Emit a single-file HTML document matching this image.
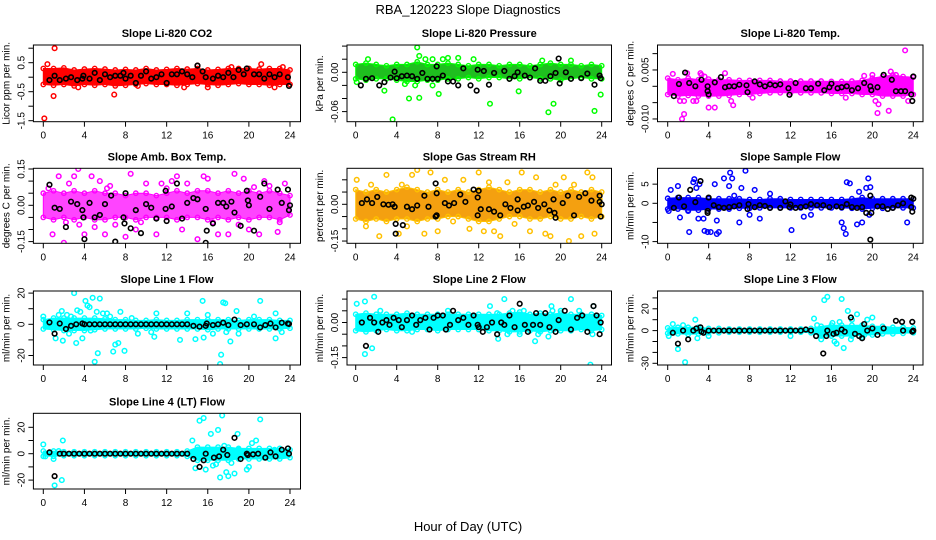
<!DOCTYPE html>
<html><head><meta charset="utf-8"><style>
body{margin:0;background:#fff;}
svg{display:block;font-family:"Liberation Sans",sans-serif;}
</style></head><body>
<svg id="chart" width="936" height="540" viewBox="0 0 936 540">
<text x="468" y="14" text-anchor="middle" font-size="13">RBA_120223  Slope Diagnostics</text>
<text x="468" y="531" text-anchor="middle" font-size="13">Hour of Day (UTC)</text>
</svg>
<script>
const hours=[0,1,2,3,4,5,6,7,8,9,10,11,12,13,14,15,16,17,18,19,20,21,22,23,24];
const xTicks=[0,4,8,12,16,20,24];

const co2Hi=[0.3,0.3,0.32,0.25,0.28,0.3,0.28,0.25,0.27,0.25,0.3,0.25,0.27,0.3,0.28,0.3,0.25,0.27,0.3,0.3,0.3,0.28,0.3,0.3,0.25];
const co2Lo=[-0.25,-0.28,-0.25,-0.3,-0.25,-0.28,-0.25,-0.3,-0.28,-0.25,-0.22,-0.25,-0.25,-0.28,-0.25,-0.22,-0.25,-0.28,-0.25,-0.22,-0.25,-0.25,-0.28,-0.25,-0.25];
const co2Out=[[0.1,-1.42],[1.0,-0.65],[1.1,1.0],[6.9,-0.6],[21.2,0.45],[15,0.4],[0.4,0.45],[23.3,0.35],[3.4,-0.35],[16,-0.35],[22.5,-0.35],[18.3,0.35],[9.2,-0.3],[13.7,-0.35]];
const co2Blk=[[0.6,-0.1],[1.1,0.05],[1.6,-0.1],[2.2,-0.05],[2.7,0],[3.3,-0.1],[3.8,-0.05],[3.9,0.05],[4.5,-0.05],[5.0,0.15],[5.5,-0.1],[6.0,0.1],[6.5,0],[7.0,0.05],[7.5,0.05],[7.8,0.15],[8.0,-0.05],[8.5,0.05],[9.0,-0.2],[9.5,0.05],[10.0,0.2],[10.5,-0.05],[11.0,0],[11.5,0.1],[12.0,-0.2],[12.5,0.1],[13.0,0.1],[13.5,0.2],[14.0,0.1],[14.5,0],[15.0,0.4],[15.5,0.2],[15.8,0],[16.5,-0.05],[17.0,0.05],[17.5,0],[18.0,0.15],[18.5,0],[19.0,0.25],[19.5,0.1],[19.8,0.3],[20.5,0.1],[21.0,0.1],[21.5,-0.05],[22.0,0.1],[22.5,0],[23.0,0.1],[23.8,0],[23.9,-0.3]];

const presHi=[0.012,0.014,0.012,0.01,0.012,0.012,0.016,0.012,0.012,0.014,0.012,0.01,0.012,0.012,0.01,0.012,0.012,0.01,0.012,0.014,0.012,0.012,0.01,0.012,0.01];
const presLo=[-0.01,-0.012,-0.01,-0.01,-0.012,-0.014,-0.014,-0.012,-0.012,-0.01,-0.01,-0.008,-0.01,-0.008,-0.008,-0.01,-0.01,-0.008,-0.01,-0.01,-0.012,-0.01,-0.008,-0.01,-0.01];
const presOut=[[6,0.038],[6.2,0.025],[6.8,0.02],[7.5,0.02],[8.5,0.02],[9,0.022],[10,0.022],[1.2,0.02],[0.1,-0.015],[2.8,-0.028],[3.6,-0.072],[5.2,-0.04],[6.2,-0.039],[8.1,-0.033],[13.1,-0.048],[15.9,-0.029],[18.8,-0.061],[19.3,-0.048],[23.3,-0.059],[23.9,-0.034],[7.5,-0.02],[5.8,-0.02],[18.2,0.018],[21,0.018],[4.8,-0.018],[11.5,0.02]];
const presBlk=[[0.5,-0.02],[1.0,-0.01],[1.6,-0.009],[2.3,-0.02],[2.8,-0.015],[3.4,-0.008],[3.8,0.001],[4.0,-0.009],[4.5,-0.006],[5.0,-0.005],[5.5,-0.006],[6.0,-0.01],[6.5,-0.001],[7.0,-0.01],[7.5,-0.01],[7.9,0.009],[8.0,-0.01],[8.5,-0.005],[9.0,-0.014],[9.5,-0.014],[10.0,-0.02],[10.5,0.006],[11.2,-0.02],[11.8,-0.028],[11.9,0.004],[12.5,0.002],[13.0,-0.019],[13.5,-0.001],[14.5,0.002],[15.0,-0.01],[15.5,-0.006],[15.8,0.0],[16.5,-0.005],[17.0,-0.008],[17.5,0.006],[18.0,-0.013],[18.5,-0.013],[19.0,-0.006],[19.5,-0.001],[19.8,0.021],[19.9,-0.017],[20.5,0],[21.0,-0.01],[22.0,-0.009],[22.6,-0.002],[23.3,-0.019],[23.8,-0.005],[23.9,-0.009]];

const ltHi=[0.0025,0.002,0.0025,0.002,0.0022,0.002,0.002,0.0018,0.0018,0.0018,0.0018,0.0016,0.0016,0.0016,0.0016,0.0016,0.0015,0.0015,0.0016,0.0018,0.0025,0.003,0.0035,0.003,0.0028];
const ltLo=[-0.0025,-0.003,-0.0028,-0.003,-0.003,-0.003,-0.0028,-0.0025,-0.0025,-0.0022,-0.002,-0.002,-0.002,-0.002,-0.002,-0.002,-0.0022,-0.0022,-0.0022,-0.0025,-0.0025,-0.003,-0.003,-0.003,-0.0025];
const ltOut=[[0.5,0.0038],[1.2,-0.0045],[1.6,-0.0045],[1.4,-0.0100],[1.6,-0.0085],[1.9,0.004],[2.5,-0.0045],[2.8,-0.0045],[3.2,0.004],[3.6,0.003],[4.0,-0.0065],[4.6,-0.0065],[5.6,0.004],[6.2,-0.0045],[6.4,-0.0058],[3.3,0.0035],[20.3,-0.0045],[20.6,-0.0055],[20.5,-0.0082],[21.8,0.0045],[21.6,-0.0075],[23.2,0.011],[22.3,0.0035],[23.5,-0.0045],[19.2,0.0032],[20.0,0.0035],[8.3,-0.0035],[17.4,-0.0035]];
const ltBlk=[[0.6,-0.003],[1.1,0.0007],[1.7,0.0042],[2.1,0.001],[2.7,0],[3.3,0.002],[3.9,0],[3.9,-0.0015],[4.0,-0.0025],[4.6,0.0012],[5.2,0.0028],[5.6,-0.0003],[6.0,0],[6.5,0],[7.0,0.0005],[7.7,0.0003],[7.8,-0.0018],[8.5,0.0015],[9.0,0.0006],[9.5,0],[10.0,0.0006],[10.5,0.0003],[11.0,0.0006],[11.8,-0.0006],[11.9,-0.0026],[12.5,0.001],[13.5,-0.0006],[14.0,-0.0006],[14.7,0.0008],[15.3,-0.0012],[15.8,-0.0003],[16.0,0.0008],[16.6,-0.0006],[17.0,-0.0003],[17.5,0],[18.0,-0.0012],[18.6,-0.0006],[19.2,0.001],[19.8,0],[19.9,-0.0012],[20.5,-0.0003],[21.1,0.0035],[21.9,0.002],[22.3,-0.0015],[22.8,-0.0015],[23.2,-0.0015],[23.8,-0.0025],[23.9,-0.0045],[24.0,0.003]];

const abHi=[0.05,0.06,0.05,0.06,0.05,0.06,0.05,0.05,0.04,0.05,0.05,0.04,0.05,0.06,0.05,0.06,0.06,0.05,0.06,0.05,0.06,0.05,0.06,0.05,0.04];
const abLo=[-0.05,-0.06,-0.05,-0.06,-0.05,-0.06,-0.06,-0.05,-0.05,-0.06,-0.05,-0.05,-0.05,-0.06,-0.05,-0.05,-0.06,-0.05,-0.06,-0.05,-0.06,-0.05,-0.05,-0.06,-0.04];
const abOut=[[0.9,-0.12],[2.0,-0.155],[2.5,0.09],[3.0,0.12],[3.5,-0.08],[4.0,-0.12],[4.7,0.12],[5.0,-0.09],[5.5,0.1],[6.0,-0.12],[6.5,0.08],[7.0,-0.08],[8.0,-0.13],[8.5,0.13],[9.0,-0.1],[10.0,0.09],[11.0,-0.12],[11.5,0.09],[12.5,0.1],[13.5,-0.1],[14.0,0.09],[15.0,-0.14],[15.6,0.12],[16.0,0.11],[17.0,-0.12],[18.0,-0.12],[18.6,0.13],[19.5,0.11],[20.0,-0.1],[21.0,-0.12],[21.5,0.1],[22.0,0.08],[22.8,-0.11],[23.5,0.09],[3.4,0.15],[1.5,0.12],[13.0,0.12],[19.0,-0.08],[0.5,0.07],[2.2,-0.07],[6.2,0.07],[9.5,-0.07],[12.0,0.07],[16.5,-0.07],[20.5,0.075],[23.0,-0.07]];
const abBlk=[[0.6,0.085],[1.1,-0.01],[1.6,-0.015],[2.2,-0.09],[2.7,0.015],[3.3,0.005],[3.8,-0.02],[3.9,-0.05],[4.0,-0.14],[4.5,0.01],[5.0,-0.05],[5.5,-0.04],[6.0,0.005],[6.6,0.04],[7.0,-0.15],[7.8,-0.05],[7.9,-0.075],[8.0,0.05],[8.5,-0.095],[9.0,-0.02],[9.5,-0.115],[10.0,0.005],[10.5,-0.01],[11.0,-0.055],[11.9,0.06],[11.9,-0.015],[12.0,-0.065],[12.5,-0.005],[13.0,0.09],[13.5,-0.055],[14.0,0.01],[14.6,0.03],[15.0,0.025],[15.8,-0.015],[15.9,-0.105],[15.8,-0.155],[16.5,-0.075],[17.0,0.01],[17.5,0.01],[17.8,-0.005],[18.3,0.015],[18.6,-0.03],[19.2,-0.085],[19.8,0.06],[19.9,0.02],[20.0,0],[20.5,-0.105],[21.1,0.035],[21.5,0.09],[22.0,-0.015],[22.8,0.065],[23.2,0.01],[23.8,0.065],[23.9,-0.02],[24.0,0.0]];

const rhHi=[0.06,0.05,0.06,0.05,0.06,0.07,0.06,0.05,0.06,0.05,0.06,0.05,0.06,0.07,0.06,0.05,0.06,0.06,0.05,0.06,0.05,0.06,0.05,0.06,0.05];
const rhLo=[-0.06,-0.07,-0.06,-0.07,-0.06,-0.06,-0.07,-0.06,-0.06,-0.05,-0.05,-0.06,-0.07,-0.07,-0.06,-0.05,-0.05,-0.06,-0.06,-0.05,-0.06,-0.06,-0.05,-0.06,-0.05];
const rhOut=[[0.1,0.1],[1.0,-0.09],[1.5,0.08],[2.3,-0.13],[3.0,0.12],[4.2,-0.12],[4.5,0.08],[5.0,-0.09],[5.5,0.12],[6.0,0.14],[6.7,-0.12],[7.3,0.13],[8.0,-0.11],[8.7,0.1],[9.5,-0.07],[10.5,0.1],[11.1,-0.1],[12.0,0.13],[12.5,-0.11],[13.0,0.09],[13.5,-0.11],[14.1,-0.13],[14.8,0.09],[15.5,-0.08],[16.2,0.13],[17.0,-0.11],[17.6,0.11],[18.5,-0.12],[19.0,-0.13],[19.5,0.08],[20.3,0.11],[20.8,-0.15],[21.3,0.08],[22.0,-0.13],[22.6,0.13],[23.1,0.11],[23.3,-0.12],[23.8,0.02]];
const rhBlk=[[0.6,0.005],[1.1,0.02],[1.6,0.005],[2.1,0.03],[2.7,0],[3.2,-0.002],[3.6,0],[3.8,-0.01],[3.9,-0.08],[3.9,-0.12],[4.6,-0.085],[5.0,-0.01],[5.5,-0.02],[6.0,-0.005],[6.7,0.035],[7.1,-0.01],[7.8,-0.05],[7.9,-0.045],[7.9,0.045],[7.8,0.085],[8.7,0.005],[9.1,-0.005],[9.6,0.005],[10.2,0.04],[10.7,0.01],[11.5,0.06],[12.0,0.055],[11.9,0.028],[11.9,-0.045],[12.2,-0.02],[13.0,-0.02],[13.5,-0.03],[14.1,-0.045],[14.6,0],[15.1,-0.015],[15.8,0.02],[15.8,-0.025],[16.4,-0.01],[16.8,-0.005],[17.4,0.01],[17.8,-0.015],[18.4,0],[18.9,-0.025],[19.3,0.02],[19.4,-0.035],[19.5,-0.055],[20.2,0.005],[20.7,0.035],[21.3,-0.045],[21.8,0.03],[22.4,0.045],[23.0,0.015],[23.8,0.035],[23.8,0.01],[23.9,-0.05],[24.0,0.0]];

const sfHi=[1.3,1.5,1.5,1.5,1.2,1.2,1.2,1.2,1.0,1.0,1.2,1.2,1.0,1.0,1.0,1.0,1.0,1.0,1.2,1.5,1.2,1.2,1.2,1.2,1.2];
const sfLo=[-1.5,-1.5,-1.8,-1.8,-1.5,-1.5,-1.5,-1.3,-1.3,-1.2,-1.2,-1.2,-1.2,-1.2,-1.2,-1.2,-1.2,-1.2,-1.3,-1.5,-1.3,-1.3,-1.2,-1.2,-1.2];
const sfOut=[[0.1,-2],[0.3,3.5],[1.0,4.5],[1.2,-3.7],[2.0,-2],[2.5,5.5],[2.6,6.3],[2.8,4],[3.0,-4],[3.1,5],[3.5,-4],[3.9,-7.5],[2.1,-7.5],[3.6,-7.2],[4.2,-7.5],[4.8,-8],[5,-7.5],[4.6,5],[4.8,-4.5],[5.5,6.5],[6.0,4.5],[6.5,2],[7.0,-5],[7.2,4],[7.6,8.5],[6.3,6.5],[6.1,8],[8.5,3.5],[8.0,-3],[9.0,-4],[10,2.5],[12.1,-7],[13.3,-3.5],[14.0,-3],[17.0,-5],[17.2,-6.5],[17.4,-8],[17.5,5.5],[17.8,5.2],[18.5,-5.5],[19.0,-5],[19.4,4],[19.6,6.5],[19.8,4.2],[19.7,-3],[18.7,3],[23.4,-5]];
const sfBlk=[[0.6,-1.2],[1.1,1.5],[1.6,-0.8],[2.2,3.5],[2.7,0.3],[3.2,5.8],[3.9,-2],[3.9,-2.5],[4.0,1.5],[4.5,-0.5],[5.0,-1],[5.5,-1.2],[6.0,-1],[6.5,-0.8],[7.0,-0.5],[7.8,-1.5],[7.9,-0.2],[8.5,-1],[9.0,-0.5],[9.5,-0.7],[10.0,-1.2],[11.0,-1.2],[11.5,0.5],[11.9,-1],[12.0,-0.3],[12.5,-1.2],[13.0,-1],[13.5,-0.8],[14.0,-0.2],[14.6,-0.5],[15.2,-0.5],[15.8,-1],[16.5,-0.8],[17.0,-1],[17.5,-0.2],[18.0,-1],[18.5,-1.2],[19.0,-1],[19.4,-2.5],[19.8,2],[19.8,-9.5],[19.9,-2.5],[20.5,-0.8],[21.0,-0.8],[21.5,-1.5],[22.0,-1.2],[22.5,-0.5],[23.0,0],[23.8,1.5],[23.8,-1],[23.9,-2.2],[24,1.2]];

const l1Hi=[3,4,4,4,4,4,3.5,3,3,2.5,2.5,3,2.5,2.5,3,3,3,3,3,2.5,3,3,3,2.5,2.5];
const l1Lo=[-3,-3.5,-4,-4,-4,-3.5,-3,-3,-3,-3,-2.5,-3,-3,-3,-3,-3,-3.5,-3,-3,-3,-3,-3,-3,-3,-2.5];
const l1Out=[[0,5],[1.2,-9],[1.5,6],[1.8,8.5],[1.9,-10.5],[2.3,6],[2.5,-6],[2.7,5],[3.0,20],[3.2,-12],[3.3,9],[3.6,8],[3.8,-9],[4.1,15],[4.3,12],[4.5,11],[4.6,-4],[4.8,17],[5.0,-24],[5.2,8],[5.3,-18.5],[5.5,16.5],[5.8,7],[6.2,7],[6.5,5],[6.8,-17.5],[7.0,-13],[7.3,-12],[7.5,8],[7.9,-17],[8.6,4],[9.2,-6],[10.5,-5],[10.8,-8],[11.0,7],[13.3,-10],[14.0,7],[14.8,-9.5],[15.5,15],[15.6,-8.5],[16.0,6],[16.5,-6],[17.2,-25.5],[17.3,-19.5],[17.5,14],[17.7,13.5],[17.8,-5],[18.2,-11],[18.8,8.5],[19.0,-6],[20.5,5],[21.1,15],[22.6,-9],[22.6,7],[23.2,-5]];
const l1Blk=[[0.6,1.2],[1.1,-6],[1.6,0.5],[2.2,-3],[2.7,-1],[3.2,0],[3.8,0.5],[4.0,0],[4.5,0],[5.0,0],[5.5,0],[6.0,0],[6.5,0],[7.0,0],[7.5,0],[8.0,0],[8.5,0],[9.0,0],[9.5,0],[10.0,0],[10.5,0],[11.0,0],[11.5,0],[12.0,0],[12.5,0],[13.0,0],[13.5,0],[14.0,0],[14.6,-1],[15.2,-1.5],[15.8,-1],[15.9,0.5],[16.5,-0.5],[17.0,0],[17.5,1],[18.0,-0.5],[18.6,3],[19.2,-0.5],[19.8,0],[20.5,0],[21.1,-2],[21.6,-0.5],[22.1,0.5],[22.6,-2],[23.2,1],[23.8,0.5],[23.9,0.2]];

const l2Hi=[0.035,0.04,0.035,0.035,0.035,0.04,0.035,0.035,0.035,0.035,0.035,0.035,0.035,0.035,0.035,0.04,0.045,0.035,0.04,0.035,0.04,0.035,0.035,0.035,0.03];
const l2Lo=[-0.035,-0.04,-0.035,-0.03,-0.035,-0.035,-0.03,-0.03,-0.035,-0.03,-0.03,-0.03,-0.03,-0.035,-0.035,-0.04,-0.04,-0.035,-0.04,-0.035,-0.035,-0.035,-0.03,-0.035,-0.03];
const l2Out=[[0.1,0.08],[0.9,0.09],[0.9,-0.135],[1.6,-0.11],[1.8,0.11],[2.4,0.05],[5.5,-0.04],[9.0,0.05],[13.1,0.07],[13.8,0.04],[13.9,-0.07],[14.5,0.1],[14.8,-0.05],[15.1,0.165],[15.3,0.05],[16.0,-0.05],[16.4,0.05],[17.3,0.2],[17.5,-0.08],[17.8,-0.05],[18.2,-0.03],[18.8,-0.06],[19.1,0.07],[19.3,-0.03],[19.2,0.05],[20.0,0.05],[21.0,0.1],[21.8,0.05],[22.9,-0.18],[23.1,-0.05],[23.2,0.07]];
const l2Blk=[[0.6,0],[1.0,-0.1],[1.4,0.02],[1.8,0],[2.2,-0.04],[2.6,0],[3.0,0.01],[3.3,-0.01],[3.7,0.02],[4.2,0.01],[4.5,-0.02],[5.0,0.01],[5.5,0.03],[5.9,-0.01],[6.3,0.01],[6.8,0.02],[7.2,-0.03],[7.6,0.02],[8.0,0.03],[8.5,0.03],[8.8,-0.03],[9.2,-0.01],[9.5,0.05],[10.0,0.01],[10.5,0.02],[11.0,-0.01],[11.5,0.03],[11.9,-0.01],[12.0,-0.02],[12.4,-0.04],[12.8,-0.02],[13.3,0],[13.8,-0.05],[14.2,0],[14.5,-0.01],[15.0,0.03],[15.5,-0.02],[16.0,0.08],[16.5,-0.01],[16.8,-0.04],[17.3,-0.01],[17.6,0.04],[18.0,-0.01],[18.5,0.04],[18.9,-0.02],[19.5,-0.04],[19.8,0.01],[20.4,0.05],[21.0,-0.03],[21.6,0.02],[22.1,0.03],[22.6,-0.04],[23.2,0.07],[23.5,0.03],[23.8,-0.05],[23.9,0]];

const l3Hi=[2.5,3,3,3,2,2,1.5,1.5,1.5,1.5,1.5,1.5,1.5,1.5,2,4,5,5,5,5,4,4,3,3,2.5];
const l3Lo=[-2.5,-3,-3.5,-3,-2,-2,-1.5,-1.5,-1.5,-1.5,-1.5,-1.5,-1.5,-1.5,-2,-5,-5,-5,-5,-4,-4,-3,-3,-2.5,-2];
const l3Out=[[0.1,-5],[0.5,6],[1.0,-17],[1.5,5],[1.7,-29],[2.7,10],[2.9,-7],[4.0,-5],[12.0,-5],[14.3,11],[14.6,5],[15.0,-8],[15.3,28],[15.6,31],[16.3,-10],[16.8,8],[17.0,29],[17.2,-16],[17.6,18],[18.0,10],[18.5,15],[19.0,-6],[19.5,10],[20.0,12],[16.1,7],[16.5,-12],[17.9,-8],[19.2,-4]];
const l3Blk=[[0.5,-2],[1.0,-12],[1.5,0],[2.0,-8],[2.5,0],[2.8,2],[3.2,3],[3.3,-1],[3.5,-2],[4.0,0],[4.5,0],[5.0,0],[5.5,0],[6.0,0],[6.5,0],[7.0,0],[7.5,0],[8.0,0],[8.5,0],[9.0,0],[9.5,0],[10.0,0],[10.5,0],[11.0,0],[11.5,0],[12.0,0],[12.5,0],[13.0,0],[13.5,1],[14.0,0],[14.5,-5],[15.2,-21],[15.5,-5],[15.6,0],[16.2,-3],[16.5,-2],[17.0,1],[17.3,-1],[17.9,12],[18.3,-3],[18.7,-5],[19.0,-7],[19.2,6],[19.5,0],[20.0,2],[20.5,-4],[21.1,2],[22.3,9],[22.9,8],[23.0,0],[23.9,8],[23.9,-1],[24.0,0]];

const l4Hi=[2,2,1.5,1.5,1.5,1.5,1.5,1.5,1.5,1.5,1.5,1.5,1.5,1.5,2,5,5,5,5,4,4,4,4,4,3];
const l4Lo=[-2,-2,-1.5,-1.5,-1.5,-1.5,-1.5,-1.5,-1.5,-1.5,-1.5,-1.5,-1.5,-1.5,-2,-5,-5,-5,-5,-4,-4,-4,-4,-4,-3];
const l4Out=[[0,7],[0.2,-2],[1.0,-4],[1.1,-24],[1.5,2],[1.8,-20],[1.9,10],[14.5,10],[14.8,-11],[15.2,25],[15.6,27],[15.8,-12],[16.3,15],[16.5,-9],[16.8,-8],[17.0,18],[17.2,-18],[17.4,29],[17.6,6],[17.8,-14],[18.0,-17],[18.3,-7],[18.6,-15],[18.9,15],[19.0,3],[19.8,-12],[20.0,-10],[20.3,8],[20.7,10],[21.1,26],[21.5,-3],[22.5,3]];
const l4Blk=[[0.6,1],[1.1,-17],[1.6,0],[2.0,0],[2.5,0],[3.0,0],[3.5,0],[4.0,0],[4.5,0],[5.0,0],[5.5,0],[6.0,0],[6.5,0],[7.0,0],[7.5,0],[8.0,0],[8.5,0],[9.0,0],[9.5,0],[10.0,0],[10.5,0],[11.0,0],[11.5,0],[12.0,0],[12.5,0],[13.0,0],[13.5,0],[14.0,0],[14.6,-4],[15.2,-10],[15.6,-5],[15.8,0],[16.6,-3],[17.1,-2],[17.5,3],[17.9,-1],[18.6,12],[19.2,-4],[19.8,0],[19.9,-1],[20.4,-0.5],[20.9,0],[21.6,-3],[22.1,1],[22.6,-2],[23.2,3],[23.8,4],[23.9,0]];

const NS="http://www.w3.org/2000/svg";
const svg=document.getElementById('chart');
function mk(tag,attrs,parent){const e=document.createElementNS(NS,tag);for(const k in attrs)e.setAttribute(k,attrs[k]);(parent||svg).appendChild(e);return e;}

const cols=[{x0:33.4,x1:300.5,t0:43.3,t24:290},{x0:347,x1:611.5,t0:355.7,t24:601.7},{x0:657.5,x1:923,t0:667.7,t24:913.3}];
const rows=[{y0:45,y1:121.7},{y0:168.3,y1:243.3},{y0:291,y1:365},{y0:413.3,y1:489}];

const panels=[
 {name:'co2',title:'Slope Li-820 CO2',ylab:'Licor ppm per min.',col:0,row:0,zero:77.2,k:29,ticks:[1,0.5,0,-0.5,-1,-1.5],labels:[0.5,-0.5,-1.5],fmt:v=>v.toFixed(1),hi:co2Hi,lo:co2Lo,out:co2Out,blk:co2Blk,fill:'#ff0000',stroke:'#ff0000'},
 {name:'pressure',title:'Slope Li-820 Pressure',ylab:'kPa per min.',col:1,row:0,zero:72.3,k:655,ticks:[0.04,0.02,0,-0.02,-0.04,-0.06],labels:[0,-0.06],fmt:v=>v.toFixed(2),hi:presHi,lo:presLo,out:presOut,blk:presBlk,fill:'#1fbf1f',stroke:'#00ff00'},
 {name:'li-temp',title:'Slope Li-820 Temp.',ylab:'degrees C per min.',col:2,row:0,zero:86.3,k:3267,ticks:[0.01,0.005,0,-0.005,-0.01],labels:[0.005,-0.01],fmt:v=>v.toFixed(3),hi:ltHi,lo:ltLo,out:ltOut,blk:ltBlk,fill:'#ff00ff',stroke:'#ff00ff'},
 {name:'amb-box-temp',title:'Slope Amb. Box Temp.',ylab:'degrees C per min.',col:0,row:1,zero:205.3,k:242,ticks:[0.15,0.1,0.05,0,-0.05,-0.1,-0.15],labels:[0.15,0,-0.15],fmt:v=>v.toFixed(2),hi:abHi,lo:abLo,out:abOut,blk:abBlk,fill:'#ff44ff',stroke:'#ff00ff'},
 {name:'gas-rh',title:'Slope Gas Stream RH',ylab:'percent per min.',col:1,row:1,zero:204.3,k:245,ticks:[0.1,0.05,0,-0.05,-0.1,-0.15],labels:[0,-0.15],fmt:v=>v.toFixed(2),hi:rhHi,lo:rhLo,out:rhOut,blk:rhBlk,fill:'#f4a010',stroke:'#ffc000'},
 {name:'sample-flow',title:'Slope Sample Flow',ylab:'ml/min per min.',col:2,row:1,zero:203.3,k:3.83,ticks:[5,0,-5,-10],labels:[5,0,-10],fmt:v=>String(v),hi:sfHi,lo:sfLo,out:sfOut,blk:sfBlk,fill:'#0000ff',stroke:'#0000ff'},
 {name:'line1-flow',title:'Slope Line 1 Flow',ylab:'ml/min per min.',col:0,row:2,zero:324.3,k:1.56,ticks:[20,10,0,-10,-20],labels:[20,0,-20],fmt:v=>String(v),hi:l1Hi,lo:l1Lo,out:l1Out,blk:l1Blk,fill:'#00ffff',stroke:'#00ffff'},
 {name:'line2-flow',title:'Slope Line 2 Flow',ylab:'ml/min per min.',col:1,row:2,zero:322.5,k:234,ticks:[0.1,0.05,0,-0.05,-0.1,-0.15],labels:[0,-0.15],fmt:v=>v.toFixed(2),hi:l2Hi,lo:l2Lo,out:l2Out,blk:l2Blk,fill:'#00ffff',stroke:'#00ffff'},
 {name:'line3-flow',title:'Slope Line 3 Flow',ylab:'ml/min per min.',col:2,row:2,zero:330.6,k:1.09,ticks:[30,20,10,0,-10,-20,-30],labels:[20,0,-30],fmt:v=>String(v),hi:l3Hi,lo:l3Lo,out:l3Out,blk:l3Blk,fill:'#00ffff',stroke:'#00ffff'},
 {name:'line4-flow',title:'Slope Line 4 (LT) Flow',ylab:'ml/min per min.',col:0,row:3,zero:453.7,k:1.32,ticks:[20,10,0,-10,-20],labels:[20,0,-20],fmt:v=>String(v),hi:l4Hi,lo:l4Lo,out:l4Out,blk:l4Blk,fill:'#00ffff',stroke:'#00ffff'}
];

panels.forEach(p=>{
 const c=cols[p.col], r=rows[p.row];
 const xs=h=>c.t0+(c.t24-c.t0)*h/24;
 const ys=v=>p.zero-v*p.k;
 const g=mk('g',{});
 
 
 const cid='clip-'+p.name;
 const cp=mk('clipPath',{id:cid},g);
 mk('rect',{x:c.x0,y:r.y0,width:c.x1-c.x0,height:r.y1-r.y0},cp);
 const t=mk('text',{x:(c.x0+c.x1)/2,y:r.y0-8,'text-anchor':'middle','font-size':11,'font-weight':'bold'},g);
 t.textContent=p.title;
 
 
 const data=mk('g',{'clip-path':'url(#'+cid+')'},g);
 let d='';
 hours.forEach((h,i)=>{d+=(i?'L':'M')+xs(h).toFixed(1)+','+ys(p.hi[i]).toFixed(1);});
 for(let i=hours.length-1;i>=0;i--)d+='L'+xs(hours[i]).toFixed(1)+','+ys(p.lo[i]).toFixed(1);
 const band=mk('path',{d:d+'Z',fill:p.fill,stroke:p.stroke,'stroke-width':1,'stroke-linejoin':'round'},data);
 
 
 hours.forEach((h,i)=>{
  [p.hi[i],p.lo[i]].forEach(v=>{
   const e=mk('circle',{cx:xs(h),cy:ys(v),r:2.2,fill:'none',stroke:p.stroke,'stroke-width':1.4},data);
   
   
  });
 });
 p.out.forEach(pt=>{
  const e=mk('circle',{cx:xs(pt[0]),cy:ys(pt[1]),r:2.3,fill:'none',stroke:p.stroke,'stroke-width':1.5},data);
  
  
 });
 p.blk.forEach(pt=>{
  const e=mk('circle',{cx:xs(pt[0]),cy:ys(pt[1]),r:2.3,fill:'none',stroke:'#000','stroke-width':1.6},data);
  
  
 });
 const box=mk('rect',{x:c.x0,y:r.y0,width:c.x1-c.x0,height:r.y1-r.y0,fill:'none',stroke:'#000','stroke-width':1},g);
 
 
 const xa=mk('g',{},g);
 
 
 xTicks.forEach(h=>{
  mk('line',{x1:xs(h),x2:xs(h),y1:r.y1,y2:r.y1+5,stroke:'#000'},xa);
  const tl=mk('text',{x:xs(h),y:r.y1+17,'text-anchor':'middle','font-size':10},xa);
  tl.textContent=h;
 });
 const ya=mk('g',{},g);
 
 
 p.ticks.forEach(v=>{mk('line',{x1:c.x0-5,x2:c.x0,y1:ys(v),y2:ys(v),stroke:'#000'},ya);});
 p.labels.forEach(v=>{
  const tx=c.x0-9, ty=ys(v);
  const tl=mk('text',{x:tx,y:ty,'text-anchor':'middle','font-size':10,transform:'rotate(-90 '+tx+' '+ty+')'},ya);
  tl.textContent=p.fmt(v);
 });
 const yt=c.x0-24, ymid=(r.y0+r.y1)/2;
 const yl=mk('text',{x:yt,y:ymid,'text-anchor':'middle','font-size':10,transform:'rotate(-90 '+yt+' '+ymid+')'},g);
 yl.textContent=p.ylab;
 
 
});
</script>
</body></html>
